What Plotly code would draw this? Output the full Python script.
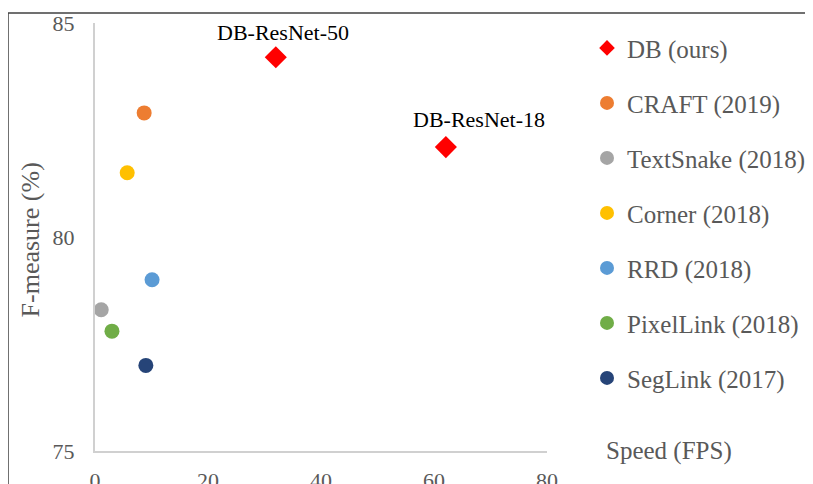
import plotly.graph_objects as go

# data
methods = ["DB (ours)", "CRAFT (2019)", "TextSnake (2018)", "Corner (2018)",
           "RRD (2018)", "PixelLink (2018)", "SegLink (2017)"]
speed = [[32.0, 62.1], [8.7], [1.1], [5.7], [10.1], [3.0], [9.0]]
fmeasure = [[84.2, 82.1], [82.9], [78.3], [81.5], [79.0], [77.8], [77.0]]
colors = ["#FF0000", "#ED7D31", "#A5A5A5", "#FFC000", "#5B9BD5", "#70AD47", "#264478"]
symbols = ["diamond", "circle", "circle", "circle", "circle", "circle", "circle"]
db_labels = ["DB-ResNet-50", "DB-ResNet-18"]
x_ticks = [0, 20, 40, 60, 80]
y_ticks = [75, 80, 85]

FONT = "Liberation Serif"
GREY = "#595959"

fig = go.Figure()
for i, m in enumerate(methods):
    fig.add_trace(go.Scatter(
        x=speed[i], y=fmeasure[i], mode="markers", name=m,
        marker=dict(color=colors[i], symbol=symbols[i],
                    size=17 if symbols[i] == "diamond" else 15),
        showlegend=False, hoverinfo="skip", cliponaxis=False))
    # legend-only entry
    fig.add_trace(go.Scatter(
        x=[None], y=[None], mode="markers", name=m, legendgroup=m,
        marker=dict(color=colors[i], symbol=symbols[i],
                    size=12 if symbols[i] == "diamond" else 14),
        showlegend=True, hoverinfo="skip"))

for xv, yv, lab, xs, ys in zip(speed[0], fmeasure[0], db_labels, [7, 33], [25, 28]):
    fig.add_annotation(x=xv, y=yv, text=lab, showarrow=False, xanchor="center",
                       yanchor="middle", xshift=xs, yshift=ys,
                       font=dict(family=FONT, size=22, color="#000000"))

fig.add_annotation(xref="paper", yref="paper", x=(30 - 95) / 452, y=0.492,
                   text="F-measure (%)", textangle=-90, showarrow=False,
                   xanchor="center", yanchor="middle",
                   font=dict(family=FONT, size=26, color=GREY))
fig.add_annotation(xref="paper", yref="paper", x=(604 - 95) / 452, y=0.0,
                   text="Speed (FPS)", showarrow=False,
                   xanchor="left", yanchor="middle",
                   font=dict(family=FONT, size=25, color=GREY))

# frame lines (left and top)
xl = (8 - 95) / 452
yt = 1 + (23 - 13) / 428
fig.add_shape(type="line", xref="paper", yref="paper", x0=xl, x1=(812 - 95) / 452,
              y0=yt, y1=yt, line=dict(color="#404040", width=1.5))
fig.add_shape(type="line", xref="paper", yref="paper", x0=xl, x1=xl,
              y0=yt, y1=-0.2, line=dict(color="#404040", width=1.5))

fig.update_layout(
    width=805, height=476,
    margin=dict(l=87, r=266, t=15, b=33, autoexpand=False),
    paper_bgcolor="white", plot_bgcolor="white",
    font=dict(family=FONT, color=GREY),
    xaxis=dict(range=[0, 80], tickvals=x_ticks, showgrid=False, zeroline=False,
               showline=True, linecolor="#D0D0D0", linewidth=2, automargin=False,
               ticks="outside", ticklen=9, tickcolor="rgba(0,0,0,0)",
               tickfont=dict(family=FONT, size=22, color=GREY)),
    yaxis=dict(range=[75, 85], tickvals=y_ticks, showgrid=False, zeroline=False,
               showline=True, linecolor="#D0D0D0", linewidth=2, automargin=False,
               ticks="outside", ticklen=14, tickcolor="rgba(0,0,0,0)",
               tickfont=dict(family=FONT, size=22, color=GREY)),
    legend=dict(x=(587 - 95) / 452, y=0.995, xanchor="left", yanchor="top",
                traceorder="grouped", tracegroupgap=19.5,
                font=dict(family=FONT, size=25, color=GREY),
                bgcolor="rgba(0,0,0,0)", borderwidth=0),
    hovermode=False,
)

fig.write_html("out.html")
